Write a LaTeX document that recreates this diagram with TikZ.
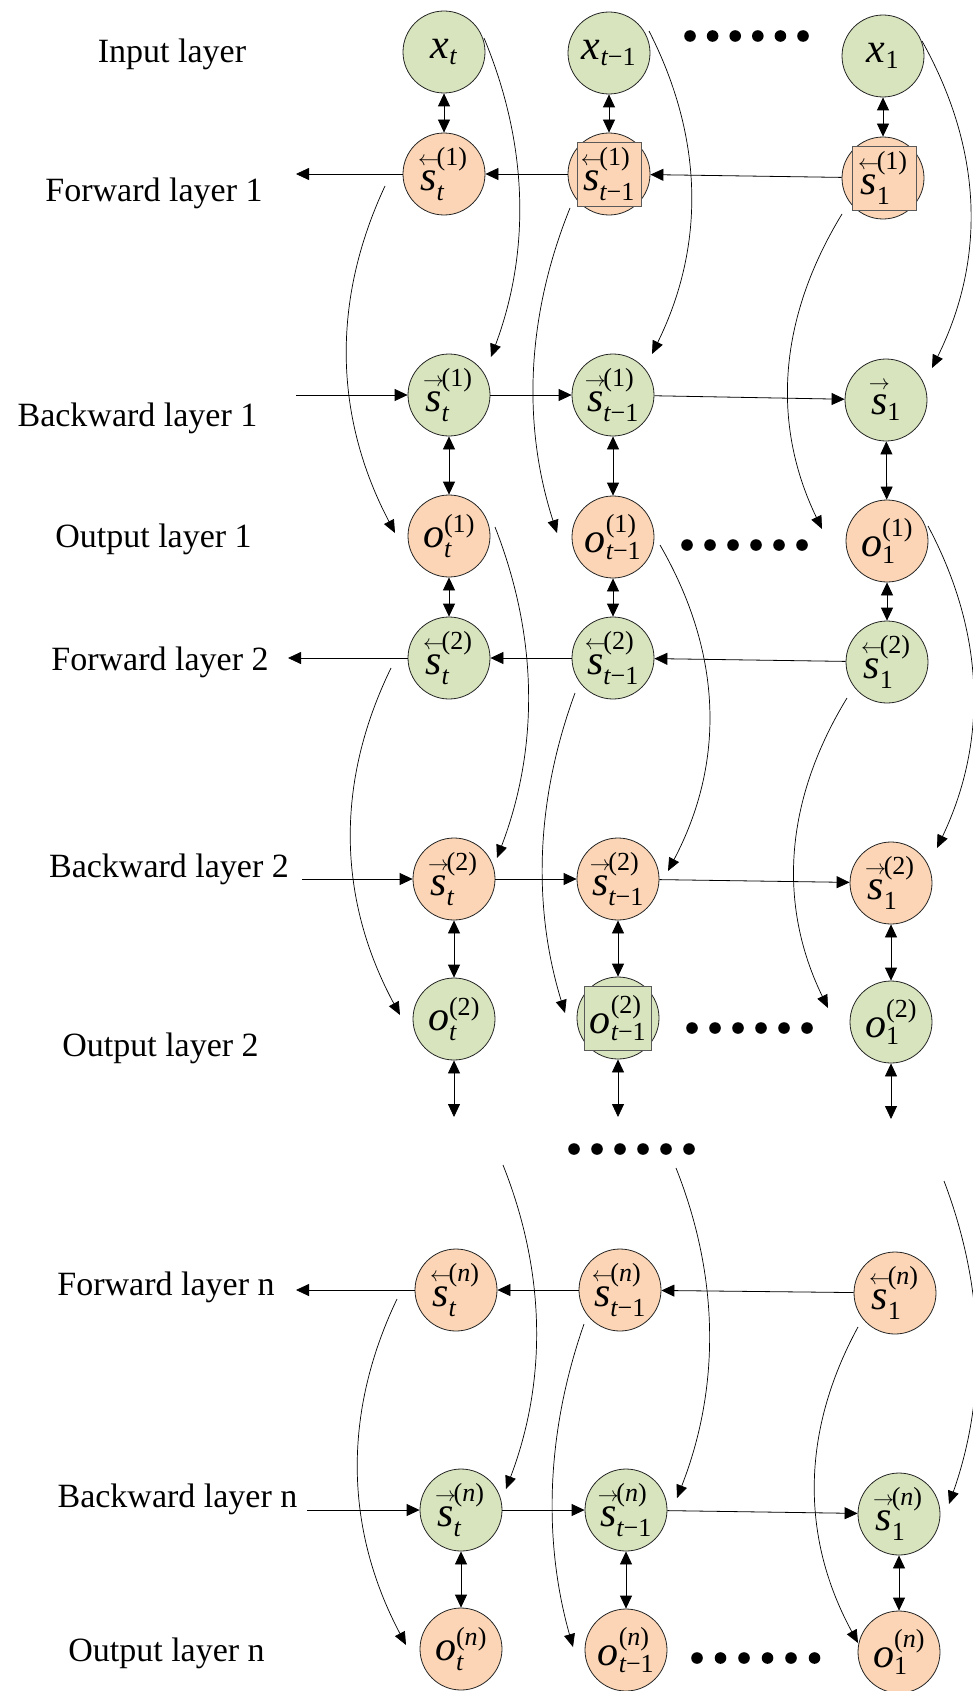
\RequirePackage{fix-cm}
\documentclass[tikz,border=0pt]{standalone}
\usepackage{amsmath}
\usepackage{fontspec}
\setmainfont{Liberation Serif}
\usetikzlibrary{arrows.meta}
\renewcommand*{\defaultscriptratio}{.62}
\definecolor{grn}{HTML}{D7E4BD}
\definecolor{org}{HTML}{FBD5B5}
\newcommand{\Tt}{\text{\itshape t}}
\newcommand{\Ttm}{\text{\itshape t}\text{−1}}
\newcommand{\Tone}{\text{1}}
\newcommand{\aS}[1]{\overset{\makebox[0pt]{\fontsize{21}{21}\selectfont$#1$}}{\text{\itshape s}}}
\newcommand{\SL}[2]{${\aS{\leftarrow}}^{\text{#1}}_{#2}$}
\newcommand{\SR}[2]{${\aS{\rightarrow}}^{\text{#1}}_{#2}$}
\newcommand{\OV}[2]{$\text{\itshape o}^{\text{#1}}_{#2}$}
\newcommand{\XV}[1]{$\text{\itshape x}_{#1}$}
\tikzset{
  base/.style={circle, draw=black!85, line width=0.8pt, minimum size=82pt, inner sep=0pt,
    font=\fontsize{42}{48}\selectfont},
  gc/.style={base, fill=grn},
  oc/.style={base, fill=org},
  bx/.style={rectangle, draw=black!65, line width=0.8pt, minimum width=64pt, minimum height=64pt,
    inner sep=0pt, font=\fontsize{42}{48}\selectfont},
  arr/.style={-{Triangle[length=13pt,width=12pt]}, line width=0.8pt},
  carr/.style={-{Triangle[length=13pt,width=11pt]}, line width=0.7pt},
  dbl/.style={{Triangle[length=13pt,width=12pt]}-{Triangle[length=13pt,width=12pt]}, line width=0.8pt},
  lbl/.style={anchor=base, inner sep=0pt, font=\fontsize{34}{40}\selectfont},
}
\begin{document}
\begin{tikzpicture}[x=1pt,y=-1pt]
\useasboundingbox (0,0) rectangle (973,1691);
\fill[white] (0,0) rectangle (973,1691);

% ---------- layer labels ----------
\node[lbl] (lin)  at (172,63)   {Input layer};
\node[lbl] (lf1)  at (154,201)  {Forward layer 1};
\node[lbl] (lb1)  at (137.5,426) {Backward layer 1};
\node[lbl] (lo1)  at (153.5,547) {Output layer 1};
\node[lbl] (lf2)  at (160,670)  {Forward layer 2};
\node[lbl] (lb2)  at (169,877)  {Backward layer 2};
\node[lbl] (lo2)  at (160.5,1056) {Output layer 2};
\node[lbl] (lfn)  at (166,1295) {Forward layer n};
\node[lbl] (lbn)  at (177.5,1507) {Backward layer n};
\node[lbl] (lon)  at (166.5,1661) {Output layer n};

% ---------- nodes ----------
\node[gc] (it) at (444,52) {\XV{\Tt}};
\node[gc] (im) at (609,53) {\XV{\Ttm}};
\node[gc] (i1) at (883,56) {\XV{\Tone}};

\node[oc] (f1t) at (444,174) {\SL{(1)}{\Tt}};
\node[oc] (f1m) at (609,174) {};
\node[bx, fill=org] (f1mb) at (609,174) {\SL{(1)}{\Ttm}};
\node[oc] (f1r) at (883,178) {};
\node[bx, fill=org] (f1rb) at (884,178) {\SL{(1)}{\Tone}};

\node[gc] (b1t) at (449,395) {\SR{(1)}{\Tt}};
\node[gc] (b1m) at (613,395) {\SR{(1)}{\Ttm}};
\node[gc] (b1r) at (886,400) {${\aS{\rightarrow}}_{\text{1}}$};

\node[oc] (o1t) at (449,536) {\OV{(1)}{\Tt}};
\node[oc] (o1m) at (613,537) {\OV{(1)}{\Ttm}};
\node[oc] (o1r) at (887,541) {\OV{(1)}{\Tone}};

\node[gc] (f2t) at (449,658) {\SL{(2)}{\Tt}};
\node[gc] (f2m) at (613,658) {\SL{(2)}{\Ttm}};
\node[gc] (f2r) at (887,662) {\SL{(2)}{\Tone}};

\node[oc] (b2t) at (454,879) {\SR{(2)}{\Tt}};
\node[oc] (b2m) at (618,879) {\SR{(2)}{\Ttm}};
\node[oc] (b2r) at (891,883) {\SR{(2)}{\Tone}};

\node[gc] (o2t) at (454,1019) {\OV{(2)}{\Tt}};
\node[gc] (o2m) at (618,1018) {};
\node[bx, fill=grn, minimum width=67pt] (o2mb) at (618,1018) {\OV{(2)}{\Ttm}};
\node[gc] (o2r) at (891,1022) {\OV{(2)}{\Tone}};

\node[oc] (fnt) at (456,1290) {\SL{(\textit{n})}{\Tt}};
\node[oc] (fnm) at (620,1290) {\SL{(\textit{n})}{\Ttm}};
\node[oc] (fnr) at (895,1293) {\SL{(\textit{n})}{\Tone}};

\node[gc] (bnt) at (461,1510) {\SR{(\textit{n})}{\Tt}};
\node[gc] (bnm) at (626,1510) {\SR{(\textit{n})}{\Ttm}};
\node[gc] (bnr) at (899,1514) {\SR{(\textit{n})}{\Tone}};

\node[oc] (ont) at (461,1649) {\OV{(\textit{n})}{\Tt}};
\node[oc] (onm) at (626,1650) {\OV{(\textit{n})}{\Ttm}};
\node[oc] (onr) at (899,1652) {\OV{(\textit{n})}{\Tone}};

% ---------- free ends ----------
\coordinate (f1e) at (296,174);
\coordinate (f2e) at (288,658);
\coordinate (fne) at (296,1290);
\coordinate (b1s) at (296,395);
\coordinate (b2s) at (302,879);
\coordinate (bns) at (307,1510);
\coordinate (s2t) at (454,1117);
\coordinate (s2m) at (618,1117);
\coordinate (s2r) at (891,1119);
\coordinate (a3t) at (503,1165);
\coordinate (a3m) at (676,1168);
\coordinate (a3r) at (944,1181);

% ---------- vertical double arrows ----------
\draw[dbl] (it) -- (f1t);
\draw[dbl] (im) -- (f1m);
\draw[dbl] (i1) -- (f1r);
\draw[dbl] (b1t) -- (o1t);
\draw[dbl] (b1m) -- (o1m);
\draw[dbl] (b1r) -- (o1r);
\draw[dbl] (o1t) -- (f2t);
\draw[dbl] (o1m) -- (f2m);
\draw[dbl] (o1r) -- (f2r);
\draw[dbl] (b2t) -- (o2t);
\draw[dbl] (b2m) -- (o2m);
\draw[dbl] (b2r) -- (o2r);
\draw[dbl] (o2t) -- (s2t);
\draw[dbl] (o2m) -- (s2m);
\draw[dbl] (o2r) -- (s2r);
\draw[dbl] (bnt) -- (ont);
\draw[dbl] (bnm) -- (onm);
\draw[dbl] (bnr) -- (onr);

% ---------- horizontal arrows ----------
\draw[arr] (f1r) -- (f1m);
\draw[arr] (f1m) -- (f1t);
\draw[arr] (f1t) -- (f1e);
\draw[arr] (f2r) -- (f2m);
\draw[arr] (f2m) -- (f2t);
\draw[arr] (f2t) -- (f2e);
\draw[arr] (fnr) -- (fnm);
\draw[arr] (fnm) -- (fnt);
\draw[arr] (fnt) -- (fne);
\draw[arr] (b1s) -- (b1t);
\draw[arr] (b1t) -- (b1m);
\draw[arr] (b1m) -- (b1r);
\draw[arr] (b2s) -- (b2t);
\draw[arr] (b2t) -- (b2m);
\draw[arr] (b2m) -- (b2r);
\draw[arr] (bns) -- (bnt);
\draw[arr] (bnt) -- (bnm);
\draw[arr] (bnm) -- (bnr);

% ---------- right-bulging curves ----------
\draw[carr] ([shift={(40,-14)}]it.center) .. controls +(44.3,106.3) and +(39.7,-106.3) .. ([shift={(42,-38)}]b1t.center);
\draw[carr] ([shift={(40,-22)}]im.center) .. controls +(55,107.7) and +(53,-107.7) .. ([shift={(39,-41)}]b1m.center);
\draw[carr] ([shift={(39,-15)}]i1.center) .. controls +(61,109) and +(54,-109) .. ([shift={(46,-32)}]b1r.center);
\draw[carr] ([shift={(46,-9)}]o1t.center) .. controls +(43.3,110.3) and +(42,-110.3) .. ([shift={(43,-21)}]b2t.center);
\draw[carr] ([shift={(47,8)}]o1m.center) .. controls +(62.7,108.7) and +(57.3,-108.7) .. ([shift={(50,-8)}]b2m.center);
\draw[carr] ([shift={(41,-15)}]o1r.center) .. controls +(57,107.3) and +(51,-107.3) .. ([shift={(46,-35)}]b2r.center);
\draw[carr] (a3t) .. controls +(43,108) and +(41,-108) .. ([shift={(45,-21)}]bnt.center);
\draw[carr] (a3m) .. controls +(43.7,110) and +(43,-110) .. ([shift={(51,-12)}]bnm.center);
\draw[carr] (a3r) .. controls +(41,107.7) and +(38,-107.7) .. ([shift={(50,-10)}]bnr.center);

% ---------- left-bulging curves ----------
\draw[carr] ([shift={(-59,12)}]f1t.center) .. controls +(-54,115.7) and +(-60.7,-115.7) .. ([shift={(-54,-3)}]o1t.center);
\draw[carr] ([shift={(-39,34)}]f1m.center) .. controls +(-43.7,108.3) and +(-35,-108.3) .. ([shift={(-56,-4)}]o1m.center);
\draw[carr] ([shift={(-41,36)}]f1r.center) .. controls +(-64,105) and +(-50.7,-105) .. ([shift={(-65,-12)}]o1r.center);
\draw[carr] ([shift={(-58,10)}]f2t.center) .. controls +(-56.3,115.7) and +(-62.3,-115.7) .. ([shift={(-54,-4)}]o2t.center);
\draw[carr] ([shift={(-38,35)}]f2m.center) .. controls +(-39.3,106.7) and +(-32.7,-106.7) .. ([shift={(-53,-5)}]o2m.center);
\draw[carr] ([shift={(-40,36)}]f2r.center) .. controls +(-63,103.3) and +(-50.3,-103.3) .. ([shift={(-63,-14)}]o2r.center);
\draw[carr] ([shift={(-59,9)}]fnt.center) .. controls +(-55,115.3) and +(-61,-115.3) .. ([shift={(-55,-4)}]ont.center);
\draw[carr] ([shift={(-36,34)}]fnm.center) .. controls +(-37.7,107.7) and +(-30.3,-107.7) .. ([shift={(-53,-3)}]onm.center);
\draw[carr] ([shift={(-37,34)}]fnr.center) .. controls +(-57.3,105.3) and +(-57.3,-105.3) .. ([shift={(-41,-9)}]onr.center);

% ---------- ellipsis dots ----------
\foreach \i in {0,...,5} {
  \fill ({690+22.6*\i},36) circle[radius=5.8pt];
  \fill ({687+23*\i},545) circle[radius=5.8pt];
  \fill ({692+23*\i},1028) circle[radius=5.8pt];
  \fill ({574+23*\i},1149) circle[radius=5.8pt];
  \fill ({697+23.5*\i},1658) circle[radius=5.8pt];
}
\end{tikzpicture}
\end{document}
